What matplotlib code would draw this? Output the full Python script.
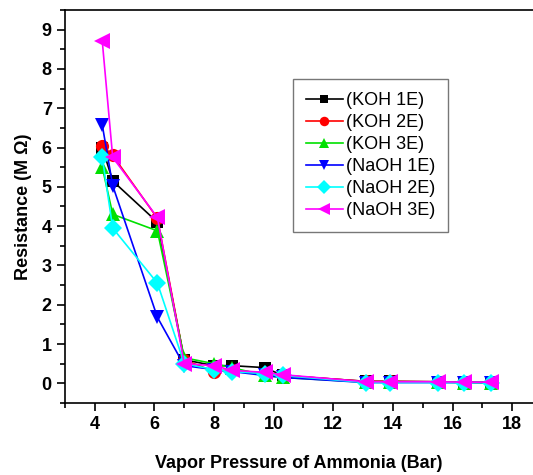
import matplotlib
matplotlib.use("Agg")
import matplotlib.pyplot as plt
from matplotlib.ticker import MultipleLocator

plt.rcParams['font.family'] = ['Liberation Sans', 'DejaVu Sans']

# Vapor pressure of ammonia (bar)
pressure = [4.25, 4.6, 6.1, 7.0, 8.0, 8.6, 9.7, 10.3, 13.1, 13.9, 15.5, 16.4, 17.3]

# Resistance (MOhm) for each sensor
koh_1e = [6.0, 5.15, 4.1, 0.6, 0.45, 0.45, 0.4, 0.2, 0.05, 0.05, 0.04, 0.03, 0.02]
koh_2e = [6.05, 5.8, 4.2, 0.6, 0.3, 0.35, 0.25, 0.2, 0.05, 0.05, 0.04, 0.03, 0.03]
koh_3e = [5.5, 4.3, 3.88, 0.65, 0.5, 0.4, 0.2, 0.15, 0.03, 0.03, 0.03, 0.02, 0.02]
naoh_1e = [6.57, 5.03, 1.68, 0.45, 0.35, 0.3, 0.2, 0.15, 0.02, 0.02, 0.02, 0.02, 0.02]
naoh_2e = [5.75, 3.95, 2.55, 0.5, 0.35, 0.3, 0.25, 0.2, 0.02, 0.02, 0.02, 0.02, 0.02]
naoh_3e = [8.7, 5.75, 4.22, 0.5, 0.45, 0.33, 0.28, 0.22, 0.04, 0.04, 0.04, 0.03, 0.03]

labels = ["(KOH 1E)", "(KOH 2E)", "(KOH 3E)", "(NaOH 1E)", "(NaOH 2E)", "(NaOH 3E)"]
series = [koh_1e, koh_2e, koh_3e, naoh_1e, naoh_2e, naoh_3e]
colors = ["#000000", "#ff0000", "#00e000", "#0000ff", "#00ffff", "#ff00ff"]
markers = ["s", "o", "^", "v", "D", "<"]
sizes = [8.5, 9.5, 10.5, 10.5, 9.5, 11.5]

fig = plt.figure(figsize=(5.33, 4.75), dpi=100)
ax = fig.add_axes([0.122, 0.1516, 0.878, 0.8274])

for y, lab, c, m, s in zip(series, labels, colors, markers, sizes):
    ax.plot(pressure, y, color=c, marker=m, markersize=s, linewidth=1.2,
            label=lab, markeredgewidth=0)

ax.set_xlim(3, 18.7)
ax.set_ylim(-0.5, 9.5)
ax.xaxis.set_major_locator(MultipleLocator(2))
ax.xaxis.set_minor_locator(MultipleLocator(1))
ax.yaxis.set_major_locator(MultipleLocator(1))
ax.yaxis.set_minor_locator(MultipleLocator(0.5))
ax.tick_params(which='major', direction='out', length=6, width=1.2,
               labelsize=13, top=False, right=False)
ax.tick_params(which='minor', direction='out', length=3.5, width=1.2,
               top=False, right=False)
for lab in ax.get_xticklabels() + ax.get_yticklabels():
    lab.set_fontweight('bold')

ax.spines['right'].set_visible(False)
for sp in ['left', 'bottom', 'top']:
    ax.spines[sp].set_linewidth(1.2)

ax.set_xlabel("Vapor Pressure of Ammonia (Bar)", fontsize=13, fontweight='bold', labelpad=16)
ax.set_ylabel("Resistance (M \u03a9)", fontsize=13, fontweight='bold', labelpad=7)

leg = ax.legend(loc='upper left', bbox_to_anchor=(0.487, 0.824), fontsize=13,
                frameon=True, fancybox=False, edgecolor='#555555',
                handlelength=2.05, handletextpad=0.15, borderpad=0.72,
                borderaxespad=0, labelspacing=0.28, markerscale=0.72)
leg.get_frame().set_linewidth(1.0)

fig.savefig("out.png", dpi=100)
